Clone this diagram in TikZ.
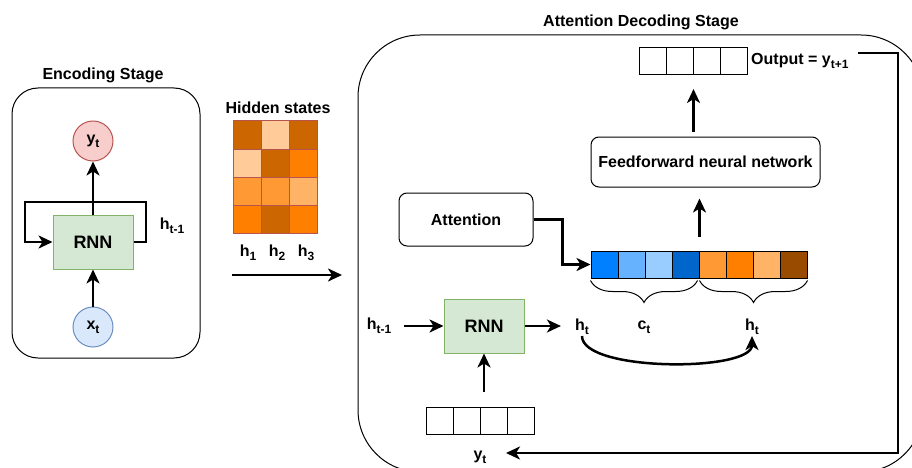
\documentclass[tikz,border=0pt]{standalone}
\usepackage{fontspec}
\setmainfont{Liberation Sans}
\usetikzlibrary{arrows.meta,decorations.pathreplacing,calc}

\definecolor{redfill}{HTML}{F8CECC}
\definecolor{redline}{HTML}{B85450}
\definecolor{bluefill}{HTML}{DAE8FC}
\definecolor{blueline}{HTML}{6C8EBF}
\definecolor{greenfill}{HTML}{D5E8D4}
\definecolor{greenline}{HTML}{82B366}
\definecolor{orA}{HTML}{CC6600}
\definecolor{orB}{HTML}{FFCC99}
\definecolor{orC}{HTML}{FF8000}
\definecolor{orD}{HTML}{FF9933}
\definecolor{orE}{HTML}{FFB366}
\definecolor{orF}{HTML}{994C00}
\definecolor{blA}{HTML}{007FFF}
\definecolor{blB}{HTML}{66B2FF}
\definecolor{blC}{HTML}{99CCFF}
\definecolor{blD}{HTML}{0066CC}

% subscript set lower and smaller than the label text
\newcommand\sbs[1]{\raisebox{-4pt}{\fontsize{12}{12}\selectfont #1}}

\begin{document}
\begin{tikzpicture}[x=1pt,y=-1pt,
  every node/.style={font=\bfseries\fontsize{16}{19}\selectfont, inner sep=1pt},
  arr/.style={line width=2.5pt, -{Stealth[length=14pt,width=13pt,inset=4pt]}},
  rnnbox/.style={draw=greenline, fill=greenfill, line width=1pt,
    minimum width=80pt, minimum height=54pt, font=\bfseries\fontsize{18}{20}\selectfont},
  state/.style={circle, line width=1pt, minimum size=40pt, inner sep=0pt},
  hcell/.style={draw=redline, line width=1pt, minimum size=28pt, inner sep=0pt},
  vcell/.style={draw=black, line width=1pt, minimum size=27pt, inner sep=0pt},
  rbox/.style={draw, line width=1pt, rounded corners=8pt},
  curly/.style={decorate, line width=1pt, decoration={brace, mirror, amplitude=22pt}}
]
\useasboundingbox (0,0) rectangle (912,468);

% ---------------- encoding stage ----------------
\draw[line width=1pt, rounded corners=26pt] (12,88) rectangle (200,358);
\node (enctitle) at (103,75) {Encoding Stage};
\node[state, draw=redline, fill=redfill] (yt) at (93,141) {y\sbs{t}};
\node[rnnbox] (rnn1) at (93,242) {RNN};
\node[state, draw=blueline, fill=bluefill] (xt) at (93,327) {x\sbs{t}};
\node (hloop) at (172,226) {h\sbs{t-1}};
\coordinate (loopR) at (146,202);
\coordinate (loopL) at (25,202);
\draw[arr] (xt) -- (rnn1);
\draw[arr] (rnn1) -- (yt);
\draw[arr] (rnn1.east) -| (loopR) -- (loopL) |- (rnn1.west);

% ---------------- hidden states ----------------
\node (hstitle) at (278,108) {Hidden states};
\foreach \r/\a/\b/\c in {1/orA/orB/orA, 2/orB/orA/orC, 3/orD/orD/orE, 4/orC/orA/orC}{
  \node[hcell, fill=\a] (hs-\r-1) at (247,107+28*\r) {};
  \node[hcell, fill=\b] (hs-\r-2) at (275,107+28*\r) {};
  \node[hcell, fill=\c] (hs-\r-3) at (303,107+28*\r) {};
}
\node (h1) at (248,253) {h\sbs{1}};
\node (h2) at (277,253) {h\sbs{2}};
\node (h3) at (306,253) {h\sbs{3}};
\coordinate (encA) at (232,275);
\coordinate (encB) at (342,275);
\draw[arr] (encA) -- (encB);

% ---------------- attention decoding stage ----------------
\begin{scope}
  \clip (0,0) rectangle (912,468);
  \draw[line width=1pt, rounded corners=62pt] (358,35) rectangle (923,472);
\end{scope}
\node (dectitle) at (641,22) {Attention Decoding Stage};

% output vector
\foreach \i in {1,...,4}{
  \node[vcell] (out\i) at (625.5+27*\i,61) {};
}
\node[anchor=west] (outl) at (750,61) {Output = y\sbs{t+1}};

\node[rbox, minimum width=229pt, minimum height=50pt] (ffnn) at (705.5,162) {Feedforward neural network};
\node[rbox, minimum width=134pt, minimum height=53pt] (att) at (466,219.5) {Attention};

% concatenated context / hidden vector
\foreach \i/\col in {1/blA,2/blB,3/blC,4/blD,5/orD,6/orC,7/orE,8/orF}{
  \node[vcell, fill=\col] (cv\i) at (577.5+27*\i,264.5) {};
}
\draw[curly] ($(cv1.south west)+(0,2)$) -- ($(cv4.south east)+(-2,2)$);
\draw[curly] ($(cv5.south west)+(1,2)$) -- ($(cv8.south east)+(0,2)$);
\node (ct) at (644,327) {c\sbs{t}};
\node (htr) at (752,327) {h\sbs{t}};
\node (htl) at (582,327) {h\sbs{t}};

% decoder RNN and its inputs
\node[rnnbox] (rnn2) at (484,326) {RNN};
\node (hin) at (379,326) {h\sbs{t-1}};
\foreach \i in {1,...,4}{
  \node[vcell] (yin\i) at (412.5+27*\i,420.5) {};
}
\node (ytl) at (480,457) {y\sbs{t}};

% connectors
\draw[arr] (att.east) -- ++(29,0) |- (cv1.west);
\draw[arr] ($(cv4.north east)+(0,-14)$) -- ($(ffnn.south -| cv4.north east)+(0,11)$);
\draw[arr] ($(ffnn.north -| out2.south east)+(0,-5)$) -- ($(out2.south east)+(0,14)$);
\draw[arr] ($(rnn2.west -| hin.east)+(12,0)$) -- (rnn2.west);
\draw[arr] (rnn2.east) -- ($(rnn2.east -| htl.west)+(-13,0)$);
\draw[arr] ($(rnn2.south |- yin2.north)+(0,-15)$) -- (rnn2.south);
\draw[arr] (htl.south) .. controls +(0,36) and +(0,36) .. (htr.south);

% feedback of the output to the next step
\coordinate (retA) at (858,53);
\coordinate (retB) at (898,53);
\coordinate (retC) at (506,453);
\draw[arr] (retA) -- (retB) |- (retC);
\end{tikzpicture}
\end{document}
